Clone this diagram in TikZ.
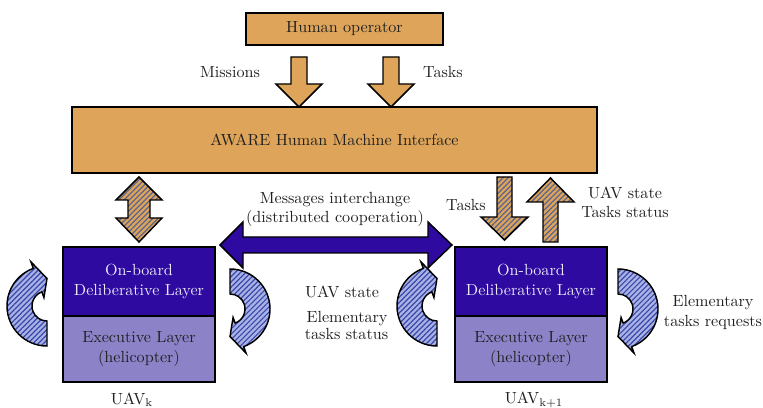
\documentclass[tikz,border=0pt]{standalone}
\usetikzlibrary{patterns.meta}

\definecolor{opOrange}{HTML}{DEA55A}
\definecolor{deepIndigo}{HTML}{2E0AA0}
\definecolor{softPurple}{HTML}{8C82C8}
\definecolor{loopFill}{HTML}{A8B2E6}
\definecolor{loopLine}{HTML}{3A46A8}
\definecolor{hatchLine}{HTML}{5A6490}
\definecolor{paleText}{HTML}{E8E8F6}
\definecolor{inkText}{HTML}{202020}

\tikzset{
  box/.style={draw=black, line width=0.9pt, inner sep=0pt, align=center, text=inkText},
  upperlayer/.style={box, fill=deepIndigo, text=paleText, minimum width=94.24pt, minimum height=42.78pt},
  lowerlayer/.style={box, fill=softPurple, minimum width=94.24pt, minimum height=40.92pt},
  label/.style={align=center, text=inkText, inner sep=0pt},
  solidblock/.style={draw=black, line width=0.9pt, line join=miter, fill=opOrange},
  hatchblock/.style={draw=black, line width=0.9pt, line join=miter, preaction={fill=opOrange},
    pattern={Lines[angle=45,distance=2.3pt,line width=0.75pt]}, pattern color=hatchLine},
  indigoblock/.style={draw=black, line width=0.9pt, line join=miter, fill=deepIndigo},
  loopblock/.style={draw=black, line width=0.9pt, line join=miter, preaction={fill=loopFill},
    pattern={Lines[angle=45,distance=2.3pt,line width=0.75pt]}, pattern color=loopLine},
  pics/turnarrow/.style={code={
    \draw[loopblock] (90:15) -- (90:40) arc[start angle=90,end angle=250,radius=40]
      -- (250:47) -- (270:27.5) -- (250:9) -- (250:15)
      arc[start angle=250,end angle=90,radius=15] -- cycle;
  }}
}

\begin{document}
\begin{tikzpicture}[x=0.62pt,y=-0.62pt]
\useasboundingbox (0,0) rectangle (763,408);

% operator and interface
\node[box, fill=opOrange, minimum width=122.14pt, minimum height=19.84pt] (op) at (344.5,29) {Human operator};
\node[box, fill=opOrange, minimum width=325.5pt, minimum height=40.92pt] (hmi) at (334.5,140) {AWARE Human Machine Interface};

% the two UAVs
\node[upperlayer] (delibA) at (139,281.5) {On-board\\Deliberative Layer};
\node[lowerlayer] (execA) at (139,349) {Executive Layer\\(helicopter)};
\node[upperlayer] (delibB) at (531,281.5) {On-board\\Deliberative Layer};
\node[lowerlayer] (execB) at (531,349) {Executive Layer\\(helicopter)};
\node[label] (uavA) at (132,400) {UAV\textsubscript{k}};
\node[label] (uavB) at (534,400) {UAV\textsubscript{k+1}};

% operator -> interface
\draw[solidblock] (291,57) -- (307,57) -- (307,84) -- (322,84) -- (299,107) -- (276,84) -- (291,84) -- cycle;
\draw[solidblock] (383,57) -- (399,57) -- (399,84) -- (414,84) -- (391,107) -- (368,84) -- (383,84) -- cycle;
\node[label] (missions) at (230,72) {Missions};
\node[label] (tasksTop) at (443,72) {Tasks};

% interface <-> UAV k
\draw[hatchblock] (139,177) -- (162,200) -- (150,200) -- (150,218) -- (162,218) -- (139,242)
  -- (116,218) -- (128,218) -- (128,200) -- (116,200) -- cycle;

% interface <-> UAV k+1
\draw[hatchblock] (497,177) -- (512,177) -- (512,217) -- (528,217) -- (504.5,240) -- (481,217) -- (497,217) -- cycle;
\draw[hatchblock] (543,242) -- (558,242) -- (558,202) -- (574,202) -- (550.5,178) -- (527,202) -- (543,202) -- cycle;
\node[label] (tasksRight) at (466,205) {Tasks};
\node[label] (stateRight) at (625,202) {UAV state\\Tasks status};

% cooperation between UAVs
\draw[indigoblock] (220,245) -- (243,222) -- (243,237) -- (428,237) -- (428,222) -- (452,245)
  -- (428,268) -- (428,253) -- (243,253) -- (243,268) -- cycle;
\node[label] (msg) at (335,209.5) {Messages interchange\\(distributed cooperation)};

% internal loops
\pic at (47,306) {turnarrow};
\pic[rotate=180] at (230,309) {turnarrow};
\pic at (437,306) {turnarrow};
\pic[rotate=180] at (618,309) {turnarrow};
\node[label, anchor=base] (stateMid) at (342,298) {UAV state};
\node[label, anchor=base] (elemMid) at (347,323) {Elementary};
\node[label, anchor=base] (statusMid) at (346.5,340) {tasks status};
\node[label] (elemRight) at (713,312.5) {Elementary\\tasks requests};

\end{tikzpicture}
\end{document}
